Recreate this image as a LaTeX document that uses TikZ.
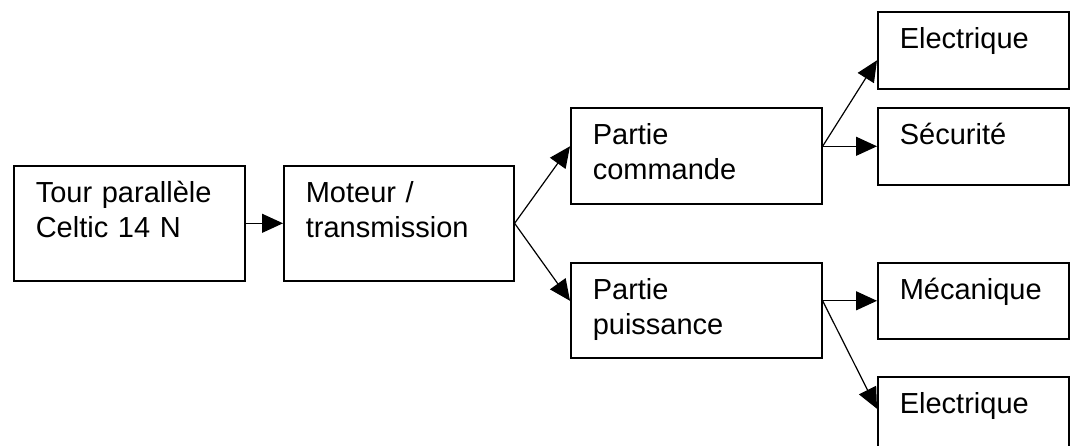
\documentclass[tikz,border=0pt]{standalone}
\usepackage{fontspec}
\setmainfont{Liberation Sans}
\usetikzlibrary{arrows.meta}

\begin{document}
\begin{tikzpicture}[x=1pt,y=-1pt]

      \useasboundingbox (0,0) rectangle (1070,446);

      \begin{scope}[every node/.style={draw,line width=1.6pt,anchor=north west,
          inner xsep=22pt,inner ysep=0pt,text height=37pt,align=left,
          font=\fontsize{29}{34.5}\selectfont}]
        \node[text width=187pt,text depth=78pt] (1) at (13,165)  {Tour parallèle\\Celtic 14 N};
        \node[text width=186pt,text depth=78pt] (2) at (283,165) {Moteur /\\transmission};
        \node[text width=207pt,text depth=59pt] (3) at (570,107) {Partie\\commande};
        \node[text width=207pt,text depth=58pt] (4) at (570,262) {Partie\\puissance};
        \node[text width=147pt,text depth=40pt] (5) at (877,11)  {Electrique};
        \node[text width=147pt,text depth=40pt] (6) at (877,107) {Sécurité};
        \node[text width=147pt,text depth=39pt] (7) at (877,262) {Mécanique};
        \node[text width=147pt,text depth=39pt] (8) at (877,376) {Electrique};
      \end{scope}

      \begin{scope}[every edge/.style={draw,line width=1.2pt,
          -{Triangle[length=21pt,width=19pt]}}]
        \path (1)       edge (2);
        \path (2.east)  edge (3.west |- 6.west);
        \path (2.east)  edge (4.west |- 7.west);
        \path (3.east |- 6.west) edge ([yshift=-10pt]5.west);
        \path (3.east |- 6.west) edge (6.west);
        \path (4.east |- 7.west) edge (7.west);
        \path (4.east |- 7.west) edge ([yshift=6pt]8.west);
      \end{scope}

    \end{tikzpicture}
\end{document}
